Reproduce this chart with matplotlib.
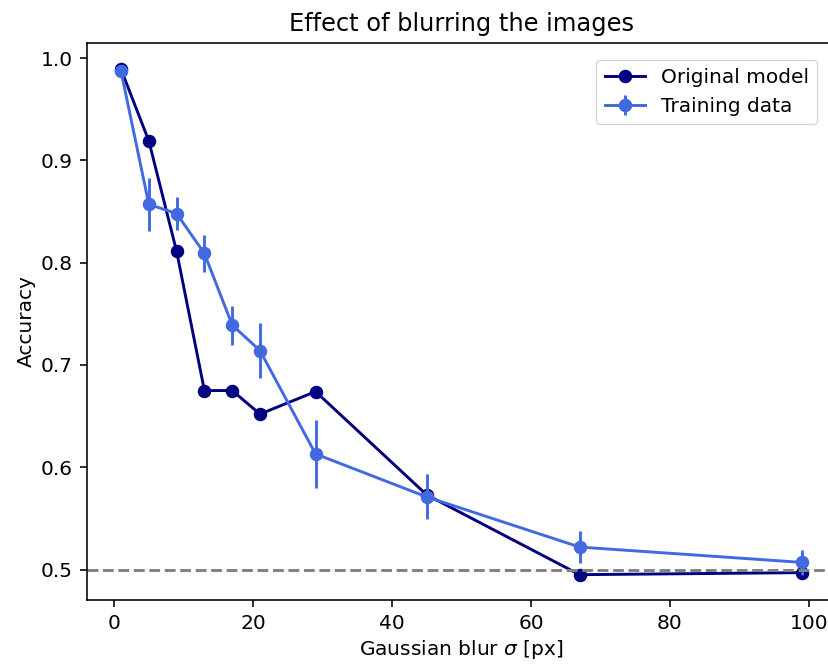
import numpy as np
import matplotlib
matplotlib.use("Agg")
import matplotlib.pyplot as plt

# blur strength (sigma, in pixels)
sigmas = [1, 5, 9, 13, 17, 21, 29, 45, 67, 99]

# accuracy of the original model on blurred test images
acc_original = [0.989, 0.919, 0.811, 0.675, 0.675, 0.652, 0.674, 0.573, 0.495, 0.497]

# accuracy when training on blurred data, mean and spread
acc_training = [0.987, 0.857, 0.848, 0.809, 0.739, 0.714, 0.613, 0.571, 0.522, 0.507]
err_training = [0.003, 0.026, 0.016, 0.018, 0.019, 0.027, 0.033, 0.022, 0.016, 0.012]

chance = 0.5

fig = plt.figure(figsize=(8.29, 6.68), dpi=100)
ax = fig.add_axes([87 / 829, 68 / 668, (836 - 87) / 829, (600 - 43) / 668])

ax.plot(sigmas, acc_original, "-o", color="navy", lw=2.1, ms=8.7,
        label="Original model")
ax.errorbar(sigmas, acc_training, yerr=err_training, fmt="-o",
            color="royalblue", lw=2.1, ms=8.7, elinewidth=2.1,
            label="Training data")
ax.axhline(chance, color="gray", ls="--", lw=2.1)

ax.set_title("Effect of blurring the images", fontsize=17.4, pad=8.7)
ax.set_xlabel(r"Gaussian blur $\sigma$ [px]", fontsize=14.5)
ax.set_ylabel("Accuracy", fontsize=14.5)
ax.tick_params(labelsize=14.5, length=5, width=1.15, pad=5)
for s in ax.spines.values():
    s.set_linewidth(1.15)
ax.set_xticks([0, 20, 40, 60, 80, 100])
ax.legend(fontsize=14.5, loc="upper right", bbox_to_anchor=(0.9746, 0.9695),
          borderaxespad=0)

fig.savefig("out.png", dpi=100)
